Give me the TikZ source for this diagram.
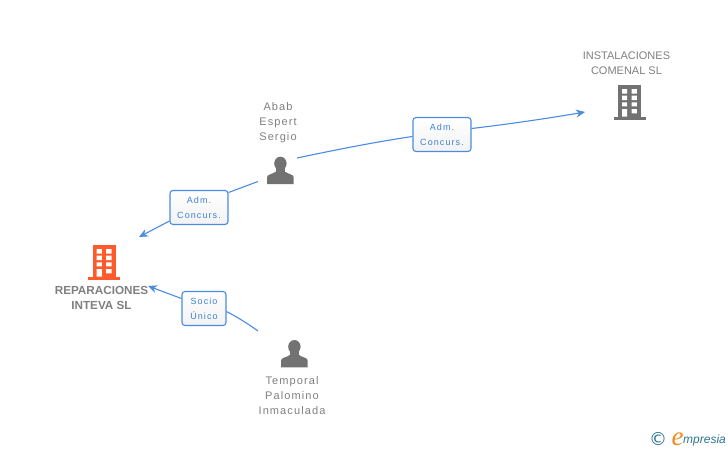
\documentclass[tikz,border=0pt]{standalone}
\usepackage{fontspec}
\setmainfont{Liberation Sans}
\newfontfamily\spaced[LetterSpace=10]{Liberation Sans}
\newfontfamily\spacedb[LetterSpace=12]{Liberation Sans}
\newfontfamily\logoser{Liberation Serif}
\newfontfamily\logosym{DejaVu Sans}
\usetikzlibrary{arrows.meta}
\definecolor{linkblue}{HTML}{4A8BE3}
\definecolor{labblue}{HTML}{3C80DC}
\definecolor{txtgray}{HTML}{808080}
\definecolor{icongray}{HTML}{727272}
\definecolor{iconorange}{HTML}{FF5A2B}
\definecolor{logoteal}{HTML}{2F7590}
\definecolor{logoorange}{HTML}{F08A1D}
\tikzset{
  linkbox/.style={draw=linkblue,line width=1.1pt,rounded corners=3pt,top color=white,bottom color=white!95!black,
    font=\spacedb\fontsize{9}{15}\selectfont,text=labblue,align=center,inner sep=0pt},
  conn/.style={draw=linkblue,line width=1.1pt},
  connarrow/.style={conn,-{Stealth[length=9pt,width=8pt]}},
  name text/.style={font=\spaced\fontsize{11}{15}\selectfont,text=txtgray,align=center,inner sep=0pt},
  company text/.style={font=\fontsize{11}{15}\selectfont,text=txtgray,align=center,inner sep=0pt},
  bold text/.style={font=\bfseries\fontsize{11.7}{15}\selectfont,text=txtgray,align=center,inner sep=0pt},
}
\newcommand{\buildingicon}[3]{% x y color; origin: body top-left
  \begin{scope}[shift={(#1,#2)}]
    \fill[#3] (0,0) rectangle (23,31.5);
    \fill[#3] (-4.5,31.5) rectangle (27.5,34.5);
    \fill[white] (4,4) rectangle (9.2,8.5) (13.5,4) rectangle (18.8,8.5)
      (4,10.7) rectangle (9.2,15) (13.5,10.7) rectangle (18.8,15)
      (4,17.3) rectangle (9.2,21.3) (13.5,17.3) rectangle (18.8,21.3)
      (4,24) rectangle (9.2,31.5) (13.5,24) rectangle (18.8,28.3);
  \end{scope}}
\newcommand{\personicon}[2]{% x y: top-left of icon box
  \begin{scope}[shift={(#1,#2)}]
    \fill[icongray] (13.4,6.8) ellipse (6.2 and 6.8);
    \fill[icongray] (0,27.3) -- (0,20.5) .. controls (0,17.5) and (6,17.5) .. (9,14.8)
      -- (9,10) -- (17.8,10) -- (17.8,14.8) .. controls (20.8,17.5) and (26.7,17.5) .. (26.7,20.5) -- (26.7,27.3) -- cycle;
  \end{scope}}
\begin{document}
\begin{tikzpicture}[x=1pt,y=-1pt]
\useasboundingbox (0,0) rectangle (728,450);
\buildingicon{92.7}{245}{iconorange}
\buildingicon{618}{85}{icongray}
\personicon{267}{156.7}
\personicon{281}{340}
\node[bold text] (rep) at (101.5,298) {REPARACIONES\\INTEVA SL};
\node[company text] (inst) at (626.5,63.5) {INSTALACIONES\\COMENAL SL};
\node[name text] (abab) at (278,122.5) {Abab\\Espert\\Sergio};
\node[name text] (temp) at (292,396) {Temporal\\Palomino\\Inmaculada};
\node[linkbox,minimum width=58pt,minimum height=34pt] (b1) at (199,207.5) {Adm.\\Concurs.};
\node[linkbox,minimum width=58pt,minimum height=34pt] (b2) at (442,134.5) {Adm.\\Concurs.};
\node[linkbox,minimum width=44pt,minimum height=34pt] (b3) at (204,308.5) {Socio\\Único};
\coordinate (s1) at (258,181.5);
\coordinate (t1) at (139,237);
\coordinate (s2) at (297,158);
\coordinate (t2) at (585,112);
\coordinate (s3) at (258,331);
\coordinate (t3) at (148,286);
\draw[conn] (s1) -- (b1.east |- 0,192.5);
\draw[connarrow] (b1.west |- 0,221) -- (t1);
\draw[conn] (s2) .. controls (335,150) and (375,142) .. (b2.west |- 0,136.5);
\draw[connarrow] (b2.east |- 0,128.5) .. controls (510,124) and (550,118) .. (t2);
\draw[conn] (s3) .. controls (247,323) and (237,317) .. (b3.east |- 0,311.5);
\draw[connarrow] (b3.west |- 0,298.5) -- (t3);
\node[inner sep=0pt,text=logoteal,font=\logosym\fontsize{18}{18}\selectfont] (copy) at (658,438.5) {©};
\node[inner sep=0pt,text=logoorange,font=\logoser\itshape\fontsize{27}{27}\selectfont] (loge) at (677.5,439) {e};
\node[inner sep=0pt,anchor=west,text=logoteal,font=\itshape\fontsize{12}{12}\selectfont] (logt) at (683,440) {mpresia};
\end{tikzpicture}
\end{document}
